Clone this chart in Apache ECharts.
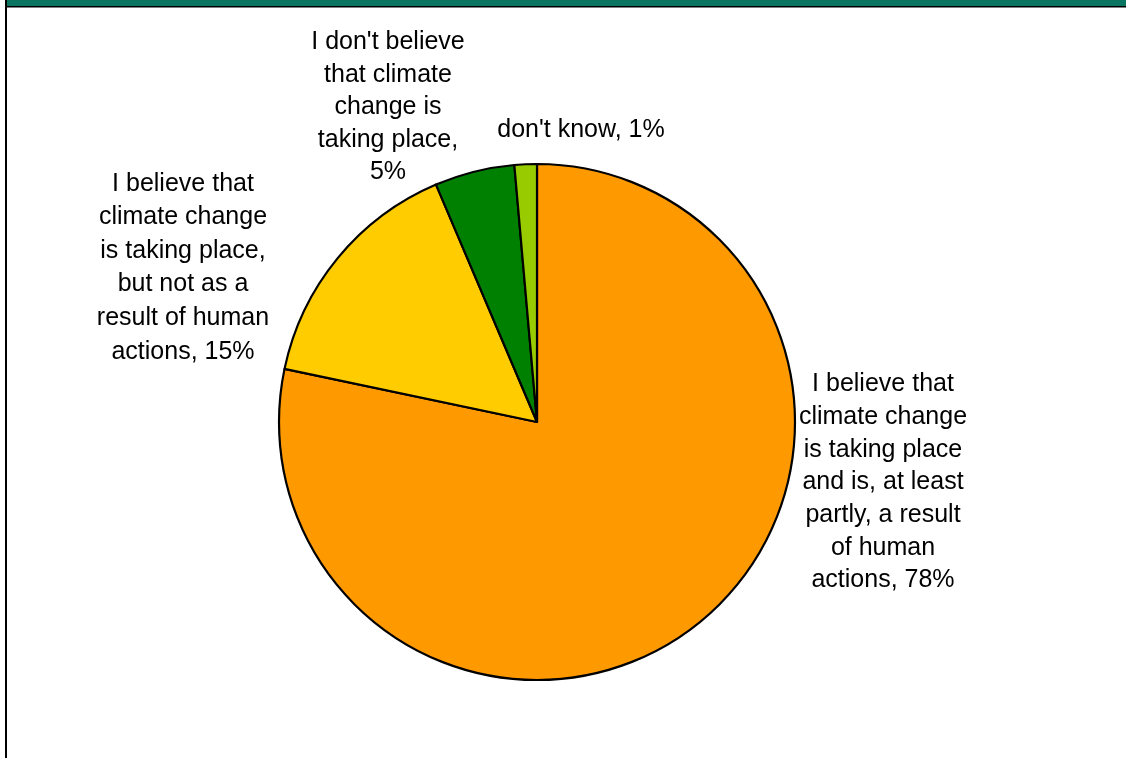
<!DOCTYPE html>
<html>
<head>
<meta charset="utf-8">
<script src="https://cdn.jsdelivr.net/npm/echarts@6/dist/echarts.min.js"></script>
<style>
html,body{margin:0;padding:0;background:#fff;}
#chart{width:1126px;height:758px;}
</style>
</head>
<body>
<div id="chart"></div>
<script>
// Data
const categories = [
  "I believe that\nclimate change\nis taking place\nand is, at least\npartly, a result\nof human\nactions",
  "I believe that\nclimate change\nis taking place,\nbut not as a\nresult of human\nactions",
  "I don't believe\nthat climate\nchange is\ntaking place,",
  "don't know"
];
const values = [78.3, 15.3, 5.0, 1.4];
const labelSeparators = [", ", ", ", "\n", ", "];
const colors = ["#FF9900", "#FFCC00", "#008000", "#99CC00"];

// Label anchor positions (text centre x, top y) and line heights
const labelPos = [
  {x: 883, y: 368},
  {x: 183, y: 167},
  {x: 388, y: 26},
  {x: 581, y: 114}
];
const labelLineHeights = [32.7, 33.6, 32.5, 32.7];

const total = values.reduce((a, b) => a + b, 0);
const data = categories.map((c, i) => ({
  name: c,
  value: values[i],
  itemStyle: {color: colors[i]},
  label: {lineHeight: labelLineHeights[i]}
}));

const chart = echarts.init(document.getElementById('chart'), null, {renderer: 'canvas'});
chart.setOption({
  animation: false,
  backgroundColor: '#ffffff',
  graphic: [
    {type: 'rect', shape: {x: 5, y: 0, width: 1121, height: 6}, style: {fill: '#0A7560'}, silent: true},
    {type: 'rect', shape: {x: 5, y: 6, width: 1121, height: 1.5}, style: {fill: '#000000'}, silent: true},
    {type: 'rect', shape: {x: 5, y: 0, width: 2, height: 758}, style: {fill: '#000000'}, silent: true}
  ],
  series: [{
    type: 'pie',
    center: [537, 422],
    radius: [0, 258],
    startAngle: 90,
    clockwise: true,
    data: data,
    itemStyle: {borderColor: '#000000', borderWidth: 2.2},
    label: {
      show: true,
      position: 'outside',
      fontFamily: 'Liberation Sans, Arial, sans-serif',
      fontSize: 25,
      lineHeight: 32.7,
      color: '#000000',
      align: 'center',
      formatter: function (p) {
        const pct = Math.round(p.value / total * 100);
        return p.name + labelSeparators[p.dataIndex] + pct + '%';
      }
    },
    labelLine: {show: false},
    labelLayout: function (params) {
      const pos = labelPos[params.dataIndex];
      return {
        x: pos.x,
        y: pos.y,
        align: 'center',
        verticalAlign: 'top',
        hideOverlap: false,
        moveOverlap: false
      };
    },
    emphasis: {disabled: true}
  }]
});
</script>
</body>
</html>
